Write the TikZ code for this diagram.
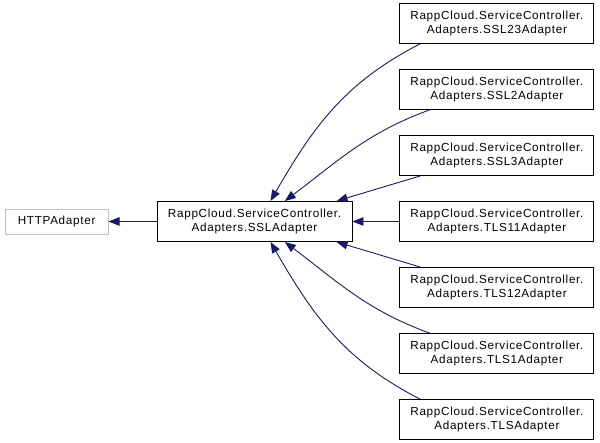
\documentclass[tikz,border=0pt]{standalone}
\usepackage{fontspec}
\newfontfamily\dotfont[LetterSpace=6.0]{Liberation Sans}
\usetikzlibrary{arrows.meta,positioning}
\definecolor{edgeblue}{HTML}{191970}
\definecolor{basegray}{HTML}{BFBFBF}

\begin{document}
\begin{tikzpicture}[x=1pt,y=-1pt,>={Triangle[length=11pt,width=8.5pt]}]
  \tikzstyle{box}=[draw,line width=0.9pt,align=center,inner sep=2pt,font=\dotfont\fontsize{11.7}{14}\selectfont,minimum width=194pt,minimum height=40pt]
  \tikzstyle{edge}=[draw=edgeblue,fill=none,line width=0.9pt,<-,>={Triangle[length=11pt,width=8.5pt,fill=edgeblue]}]
  \useasboundingbox (0,0) rectangle (600,443);
  \node[box,minimum width=195pt] (ssl) at (254.5,221.5) {RappCloud.ServiceController.\\Adapters.SSLAdapter};
  \node[box,draw=basegray,minimum width=103pt,minimum height=25pt,left=48pt of ssl] (http) {HTTPAdapter};
  \node[box,right=47pt of ssl] (tls11) {RappCloud.ServiceController.\\Adapters.TLS11Adapter};
  \node[box,above=25.2pt of tls11] (ssl3) {RappCloud.ServiceController.\\Adapters.SSL3Adapter};
  \node[box,above=25.2pt of ssl3] (ssl2) {RappCloud.ServiceController.\\Adapters.SSL2Adapter};
  \node[box,above=25.2pt of ssl2] (ssl23) {RappCloud.ServiceController.\\Adapters.SSL23Adapter};
  \node[box,below=25.2pt of tls11] (tls12) {RappCloud.ServiceController.\\Adapters.TLS12Adapter};
  \node[box,below=25.2pt of tls12] (tls1) {RappCloud.ServiceController.\\Adapters.TLS1Adapter};
  \node[box,below=25.2pt of tls1] (tls) {RappCloud.ServiceController.\\Adapters.TLSAdapter};
  % inheritance edges
  \draw[edge] (http.east) -- (ssl.west);
  \draw[edge] (ssl.52) to[out=60,in=207] (ssl23.195);
  \draw[edge] (ssl.34) to[out=37,in=200] (ssl2.197);
  \draw[edge] (ssl.14) -- (ssl3.195);
  \draw[edge] (ssl.east) -- (tls11.west);
  \draw[edge] (ssl.-14) -- (tls12.165);
  \draw[edge] (ssl.-34) to[out=-37,in=160] (tls1.163);
  \draw[edge] (ssl.-52) to[out=-60,in=153] (tls.165);
\end{tikzpicture}
\end{document}
